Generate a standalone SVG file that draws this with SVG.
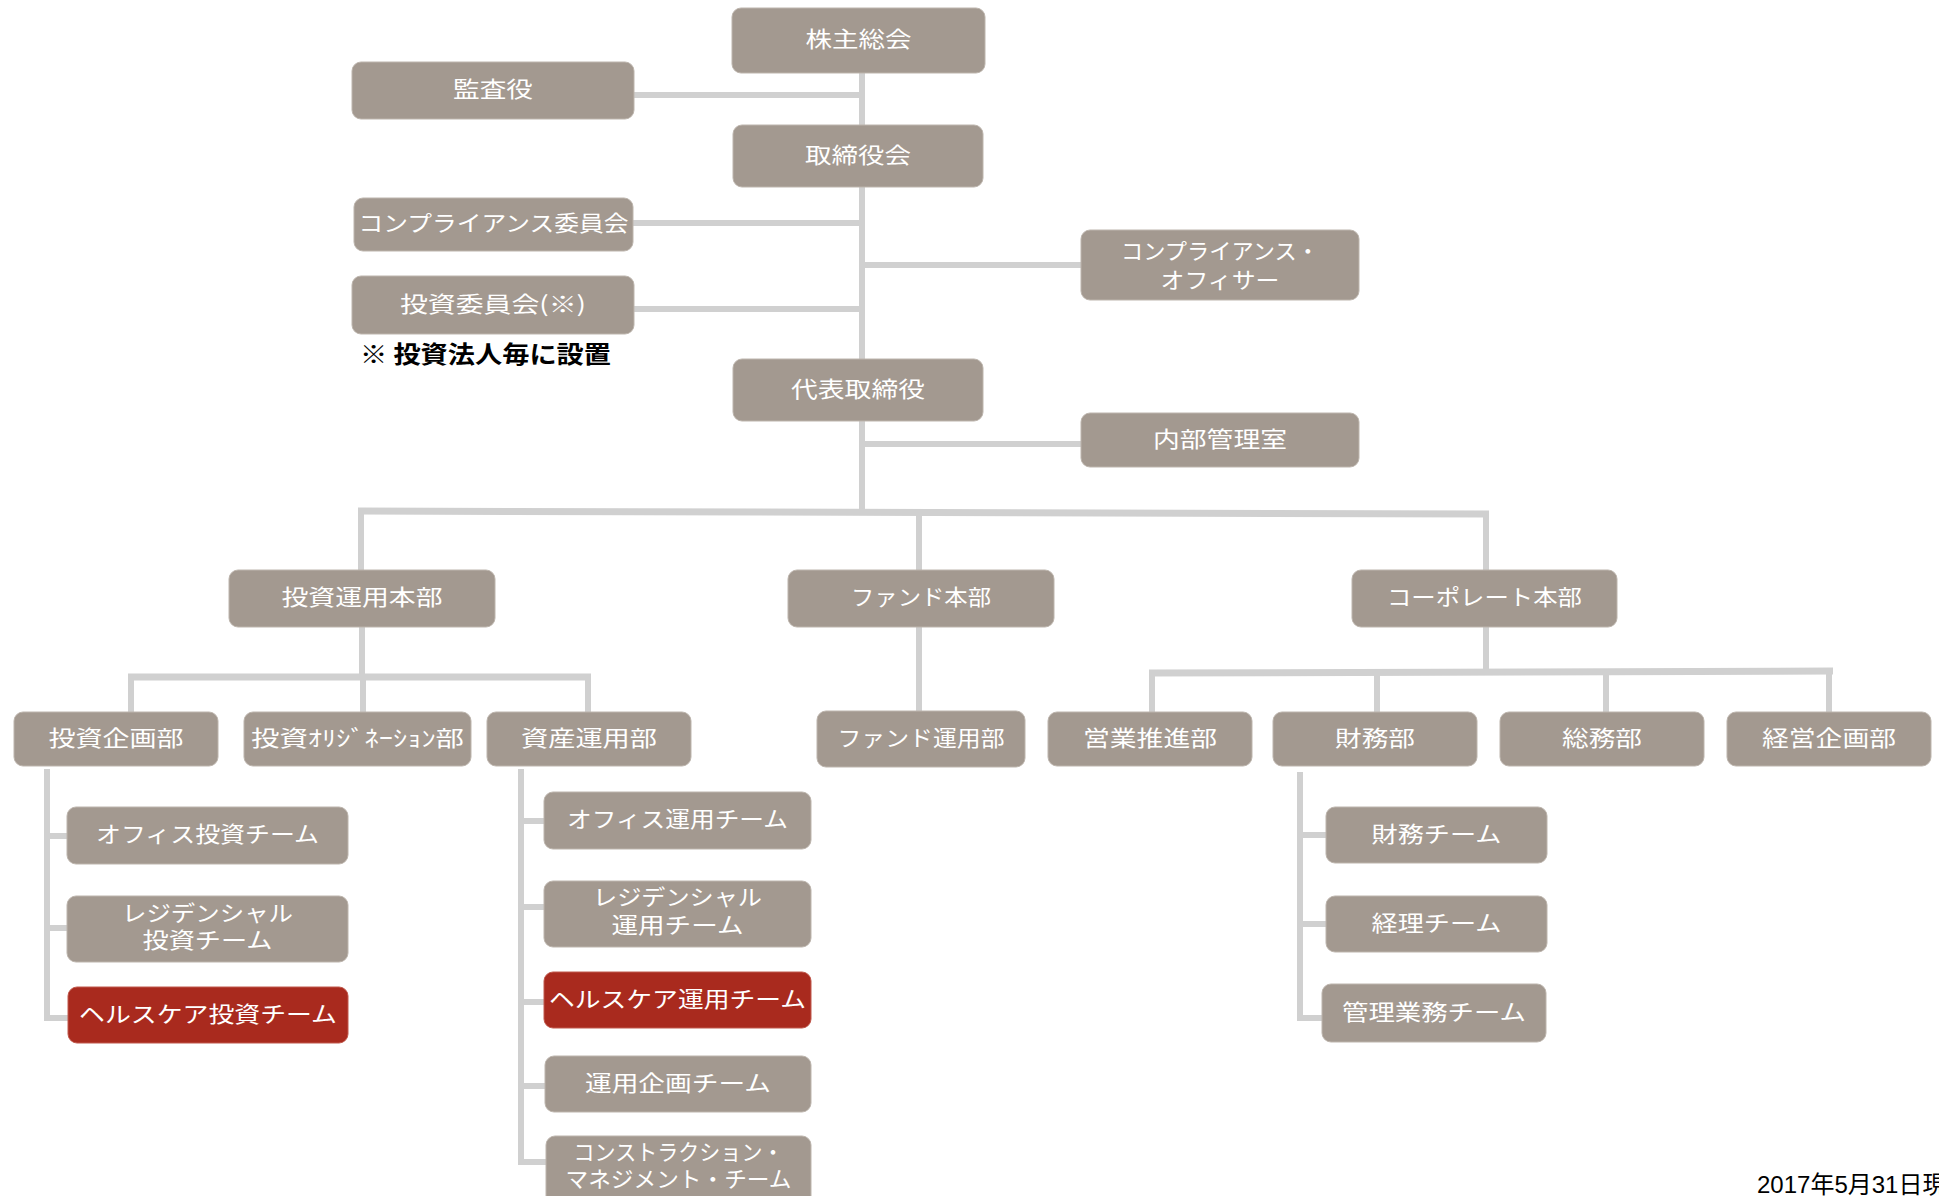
<svg xmlns="http://www.w3.org/2000/svg" width="1939" height="1196" viewBox="0 0 1939 1196">
<style>
.n{fill:#A39990;stroke:#BDB5AD;stroke-width:1}
.r{fill:#A92A1E;stroke:#C0584C;stroke-width:1}
.t{fill:#FFFFFF;font-family:"Noto Sans CJK JP","Noto Sans",sans-serif;font-size:22px;text-anchor:middle;dominant-baseline:central}
.c{stroke:#D0D0D0;stroke-width:6;fill:none;stroke-linecap:butt}
.note{fill:#000;font-family:"Noto Sans CJK JP",sans-serif;font-size:24px;font-weight:bold;dominant-baseline:central}
.date{fill:#000;font-family:"Liberation Sans","Noto Sans CJK JP",sans-serif;font-size:24px}
</style>
<rect width="1939" height="1196" fill="#FFFFFF"/>
<g id="connectors" class="c">
<path d="M862 73V125"/>
<path d="M634 95H862"/>
<path d="M862 187V359"/>
<path d="M633 223H862"/>
<path d="M634 309H862"/>
<path d="M862 265H1081"/>
<path d="M862 421V511"/>
<path d="M862 444H1081"/>
<path d="M358 511L1489 514" stroke-width="7"/>
<path d="M361 511V570"/>
<path d="M919 512V570"/>
<path d="M1486 514V570"/>
<path d="M362 627V677"/>
<path d="M128 677H591" stroke-width="7"/>
<path d="M131 677V712"/>
<path d="M363 677V712"/>
<path d="M588 677V712"/>
<path d="M919 627V711"/>
<path d="M1486 627V672"/>
<path d="M1149 673L1833 671" stroke-width="7"/>
<path d="M1152 673V712"/>
<path d="M1377 673V712"/>
<path d="M1606 672V712"/>
<path d="M1829 671V712"/>
<path d="M47 769V1018H68"/>
<path d="M47 836H67"/>
<path d="M47 928H67"/>
<path d="M521 769V1162H546"/>
<path d="M521 821H544"/>
<path d="M521 907H544"/>
<path d="M521 1002H544"/>
<path d="M521 1086H545"/>
<path d="M1300 772V1018H1322"/>
<path d="M1300 835H1326"/>
<path d="M1300 924H1326"/>
</g>
<g id="kabunushi-sokai"><rect class="n" x="732" y="8" width="253" height="65" rx="9"/><text class="t" x="858.5" y="37" textLength="106" lengthAdjust="spacingAndGlyphs">株主総会</text></g>
<g id="kansayaku"><rect class="n" x="352" y="62" width="282" height="57" rx="9"/><text class="t" x="493" y="87" textLength="80" lengthAdjust="spacingAndGlyphs">監査役</text></g>
<g id="torishimariyakukai"><rect class="n" x="733" y="125" width="250" height="62" rx="9"/><text class="t" x="858" y="152.5" textLength="106" lengthAdjust="spacingAndGlyphs">取締役会</text></g>
<g id="compliance-iinkai"><rect class="n" x="354" y="198" width="279" height="53" rx="9"/><text class="t" x="493.5" y="221" textLength="270" lengthAdjust="spacingAndGlyphs">コンプライアンス委員会</text></g>
<g id="toushi-iinkai"><rect class="n" x="352" y="276" width="282" height="58" rx="9"/><text class="t" x="493" y="301.5" textLength="186" lengthAdjust="spacingAndGlyphs">投資委員会(※)</text></g>
<text class="note" x="360" y="352.5" textLength="251" lengthAdjust="spacingAndGlyphs">※ 投資法人毎に設置</text>
<g id="compliance-officer"><rect class="n" x="1081" y="230" width="278" height="70" rx="9"/><text class="t"><tspan x="1220" y="249" textLength="198" lengthAdjust="spacingAndGlyphs">コンプライアンス・</tspan><tspan x="1220" y="278" textLength="119" lengthAdjust="spacingAndGlyphs">オフィサー</tspan></text></g>
<g id="daihyo-torishimariyaku"><rect class="n" x="733" y="359" width="250" height="62" rx="9"/><text class="t" x="858" y="386.5" textLength="134" lengthAdjust="spacingAndGlyphs">代表取締役</text></g>
<g id="naibu-kanrishitsu"><rect class="n" x="1081" y="413" width="278" height="54" rx="9"/><text class="t" x="1220" y="436.5" textLength="134" lengthAdjust="spacingAndGlyphs">内部管理室</text></g>
<g id="toushi-unyou-honbu"><rect class="n" x="229" y="570" width="266" height="57" rx="9"/><text class="t" x="362" y="595" textLength="161" lengthAdjust="spacingAndGlyphs">投資運用本部</text></g>
<g id="fund-honbu"><rect class="n" x="788" y="570" width="266" height="57" rx="9"/><text class="t" x="921" y="595" textLength="140" lengthAdjust="spacingAndGlyphs">ファンド本部</text></g>
<g id="corporate-honbu"><rect class="n" x="1352" y="570" width="265" height="57" rx="9"/><text class="t" x="1484.5" y="595" textLength="195" lengthAdjust="spacingAndGlyphs">コーポレート本部</text></g>
<g id="toushi-kikaku-bu"><rect class="n" x="14" y="712" width="204" height="54" rx="9"/><text class="t" x="116" y="735.5" textLength="135" lengthAdjust="spacingAndGlyphs">投資企画部</text></g>
<g id="toushi-origination-bu"><rect class="n" x="244" y="712" width="227" height="54" rx="9"/><text class="t" x="357.5" y="735.5" textLength="213" lengthAdjust="spacingAndGlyphs">投資ｵﾘｼﾞﾈｰｼｮﾝ部</text></g>
<g id="shisan-unyou-bu"><rect class="n" x="487" y="712" width="204" height="54" rx="9"/><text class="t" x="589" y="735.5" textLength="136" lengthAdjust="spacingAndGlyphs">資産運用部</text></g>
<g id="fund-unyou-bu"><rect class="n" x="817" y="711" width="208" height="56" rx="9"/><text class="t" x="921" y="735.5" textLength="167" lengthAdjust="spacingAndGlyphs">ファンド運用部</text></g>
<g id="eigyou-suishin-bu"><rect class="n" x="1048" y="712" width="204" height="54" rx="9"/><text class="t" x="1150" y="735.5" textLength="134" lengthAdjust="spacingAndGlyphs">営業推進部</text></g>
<g id="zaimu-bu"><rect class="n" x="1273" y="712" width="204" height="54" rx="9"/><text class="t" x="1375" y="735.5" textLength="80" lengthAdjust="spacingAndGlyphs">財務部</text></g>
<g id="soumu-bu"><rect class="n" x="1500" y="712" width="204" height="54" rx="9"/><text class="t" x="1602" y="735.5" textLength="80" lengthAdjust="spacingAndGlyphs">総務部</text></g>
<g id="keiei-kikaku-bu"><rect class="n" x="1727" y="712" width="204" height="54" rx="9"/><text class="t" x="1829" y="735.5" textLength="134" lengthAdjust="spacingAndGlyphs">経営企画部</text></g>
<g id="office-toushi-team"><rect class="n" x="67" y="807" width="281" height="57" rx="9"/><text class="t" x="207.5" y="832" textLength="223" lengthAdjust="spacingAndGlyphs">オフィス投資チーム</text></g>
<g id="residential-toushi-team"><rect class="n" x="67" y="896" width="281" height="66" rx="9"/><text class="t"><tspan x="207.5" y="911" textLength="171" lengthAdjust="spacingAndGlyphs">レジデンシャル</tspan><tspan x="207.5" y="938" textLength="130" lengthAdjust="spacingAndGlyphs">投資チーム</tspan></text></g>
<g id="healthcare-toushi-team"><rect class="r" x="68" y="987" width="280" height="56" rx="9"/><text class="t" x="208" y="1011.5" textLength="258" lengthAdjust="spacingAndGlyphs">ヘルスケア投資チーム</text></g>
<g id="office-unyou-team"><rect class="n" x="544" y="792" width="267" height="57" rx="9"/><text class="t" x="677.5" y="817" textLength="221" lengthAdjust="spacingAndGlyphs">オフィス運用チーム</text></g>
<g id="residential-unyou-team"><rect class="n" x="544" y="881" width="267" height="66" rx="9"/><text class="t"><tspan x="677.5" y="895" textLength="169" lengthAdjust="spacingAndGlyphs">レジデンシャル</tspan><tspan x="677.5" y="923" textLength="132" lengthAdjust="spacingAndGlyphs">運用チーム</tspan></text></g>
<g id="healthcare-unyou-team"><rect class="r" x="544" y="972" width="267" height="56" rx="9"/><text class="t" x="677.5" y="996.5" textLength="257" lengthAdjust="spacingAndGlyphs">ヘルスケア運用チーム</text></g>
<g id="unyou-kikaku-team"><rect class="n" x="545" y="1056" width="266" height="56" rx="9"/><text class="t" x="678" y="1080.5" textLength="186" lengthAdjust="spacingAndGlyphs">運用企画チーム</text></g>
<g id="construction-management-team"><rect class="n" x="546" y="1136" width="265" height="76" rx="9"/><text class="t"><tspan x="678.5" y="1150" textLength="210" lengthAdjust="spacingAndGlyphs">コンストラクション・</tspan><tspan x="678.5" y="1177" textLength="226" lengthAdjust="spacingAndGlyphs">マネジメント・チーム</tspan></text></g>
<g id="zaimu-team"><rect class="n" x="1326" y="807" width="221" height="56" rx="9"/><text class="t" x="1436.5" y="831.5" textLength="130" lengthAdjust="spacingAndGlyphs">財務チーム</text></g>
<g id="keiri-team"><rect class="n" x="1326" y="896" width="221" height="56" rx="9"/><text class="t" x="1436.5" y="920.5" textLength="130" lengthAdjust="spacingAndGlyphs">経理チーム</text></g>
<g id="kanri-gyoumu-team"><rect class="n" x="1322" y="984" width="224" height="58" rx="9"/><text class="t" x="1434" y="1009.5" textLength="184" lengthAdjust="spacingAndGlyphs">管理業務チーム</text></g>
<text class="date" x="1757" y="1193">2017年5月31日現在</text>
</svg>
